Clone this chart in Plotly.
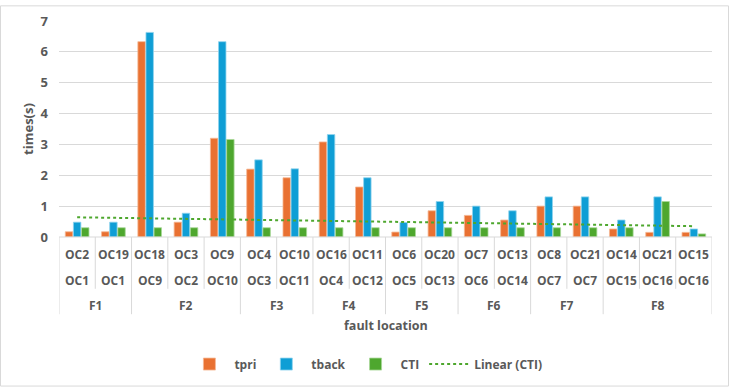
import numpy as np
import plotly.graph_objects as go

fault_groups = ["F1", "F2", "F3", "F4", "F5", "F6", "F7", "F8"]
group_sizes = [2, 3, 2, 2, 2, 2, 2, 3]
primary_oc = ["OC2", "OC19", "OC18", "OC3", "OC9", "OC4", "OC10", "OC16", "OC11",
              "OC6", "OC20", "OC7", "OC13", "OC8", "OC21", "OC14", "OC21", "OC15"]
backup_oc = ["OC1", "OC1", "OC9", "OC2", "OC10", "OC3", "OC11", "OC4", "OC12",
             "OC5", "OC13", "OC6", "OC14", "OC7", "OC7", "OC15", "OC16", "OC16"]
tpri = [0.17, 0.17, 6.33, 0.48, 3.2, 2.2, 1.92, 3.08, 1.62,
        0.16, 0.85, 0.7, 0.55, 1.0, 1.0, 0.26, 0.15, 0.15]
tback = [0.48, 0.48, 6.63, 0.77, 6.33, 2.5, 2.21, 3.32, 1.92,
         0.47, 1.15, 1.0, 0.85, 1.3, 1.3, 0.55, 1.3, 0.26]
cti = [0.3, 0.3, 0.3, 0.3, 3.16, 0.3, 0.3, 0.3, 0.3,
       0.3, 0.3, 0.3, 0.3, 0.3, 0.3, 0.3, 1.15, 0.1]
y_ticks = [0, 1, 2, 3, 4, 5, 6, 7]

cats = [f"{p}/{b}" for p, b in zip(primary_oc, backup_oc)]
n = len(cats)

# linear trendline of CTI
idx = np.arange(1, n + 1)
slope, intercept = np.polyfit(idx, cti, 1)
trend = slope * idx + intercept

grey = "#595959"
linec = "#D9D9D9"
FONT = "Open Sans"
LBL = dict(family=FONT, size=12, color=grey, weight="bold")

fig = go.Figure()
fig.add_bar(x=cats, y=tpri, name="tpri", marker=dict(color="#E97132", line=dict(color="#F5B894", width=0.8)))
fig.add_bar(x=cats, y=tback, name="tback", marker=dict(color="#0F9ED5", line=dict(color="#8FD3EE", width=0.8)))
fig.add_bar(x=cats, y=cti, name="CTI", marker=dict(color="#4EA72E", line=dict(color="#A8D898", width=0.8)))
fig.add_scatter(x=cats, y=trend, mode="lines", name="Linear (CTI)",
                line=dict(color="#4EA72E", width=2, dash="dot"))

L, R, T, B = 59, 17, 16, 153
W, H = 729, 390
pw, ph = W - L - R, H - T - B

def py(pix):
    return (H - B - pix) / ph

def px(pix):
    return (pix - L) / pw

shapes = []
annotations = []
for i in range(n):
    annotations.append(dict(x=cats[i], y=py(255), xref="x", yref="paper", text=primary_oc[i],
                            xanchor="center", yanchor="middle", showarrow=False, font=LBL))
    annotations.append(dict(x=cats[i], y=py(281), xref="x", yref="paper", text=backup_oc[i],
                            xanchor="center", yanchor="middle", showarrow=False, font=LBL))
start = 0
boundaries = {0}
for g, s in zip(fault_groups, group_sizes):
    center = start + (s - 1) / 2
    annotations.append(dict(x=center, y=py(307), xref="x", yref="paper", text=g,
                            xanchor="center", yanchor="middle", showarrow=False, font=LBL))
    start += s
    boundaries.add(start)
for k in range(n + 1):
    bottom = py(316) if k in boundaries else py(290)
    shapes.append(dict(type="line", xref="x", yref="paper", x0=k - 0.5, x1=k - 0.5,
                       y0=0, y1=bottom, line=dict(color=linec, width=1)))
shapes.append(dict(type="line", xref="paper", yref="paper", x0=0, x1=1, y0=0, y1=0,
                   line=dict(color=linec, width=1)))
shapes.append(dict(type="rect", xref="paper", yref="paper", x0=px(0.5), x1=px(728.5),
                   y0=py(389.5), y1=py(0.5), line=dict(color=linec, width=1)))

annotations.append(dict(x=0.5, y=py(328), xref="paper", yref="paper", text="fault location",
                        xanchor="center", yanchor="middle", showarrow=False,
                        font=dict(family=FONT, size=12.5, color=grey, weight="bold")))

fig.update_layout(
    width=W, height=H,
    margin=dict(l=L, r=R, t=T, b=B),
    paper_bgcolor="white", plot_bgcolor="white",
    barmode="group", bargap=0.33, bargroupgap=0.08,
    font=dict(family=FONT, color=grey),
    shapes=shapes, annotations=annotations,
    legend=dict(orientation="h", x=0.47, xanchor="center", y=py(367), yanchor="middle",
                font=dict(family=FONT, size=12, color=grey, weight="bold"),
                itemwidth=40, traceorder="normal"),
    xaxis=dict(type="category", showticklabels=False, showgrid=False, zeroline=False,
               showline=False, ticks="", range=[-0.5, n - 0.5]),
    yaxis=dict(range=[0, 7], tickvals=y_ticks, showgrid=True, gridcolor=linec, gridwidth=1,
               zeroline=False, showline=False,
               tickfont=dict(family=FONT, size=13, color=grey, weight="bold"),
               ticklabelstandoff=10,
               title=dict(text="times(s)", standoff=4,
                          font=dict(family=FONT, size=13, color=grey, weight="bold"))),
)

fig.write_html("out.html")
